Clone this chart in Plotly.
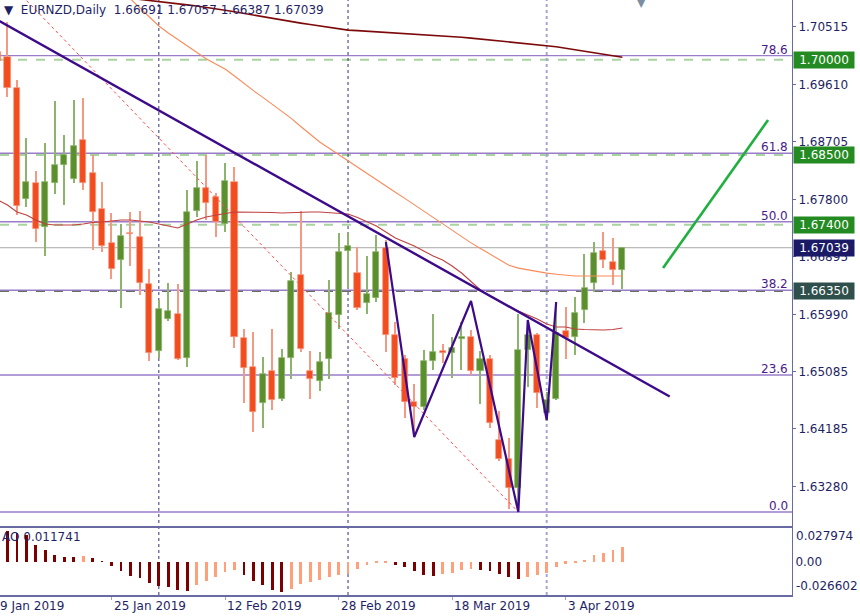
import plotly.graph_objects as go

# ---------------- data ----------------
dates = ["2019-01-09","2019-01-10","2019-01-11","2019-01-14","2019-01-15","2019-01-16","2019-01-17","2019-01-18",
         "2019-01-21","2019-01-22","2019-01-23","2019-01-24","2019-01-25","2019-01-28","2019-01-29","2019-01-30",
         "2019-01-31","2019-02-01","2019-02-04","2019-02-05","2019-02-06","2019-02-07","2019-02-08","2019-02-11",
         "2019-02-12","2019-02-13","2019-02-14","2019-02-15","2019-02-18","2019-02-19","2019-02-20","2019-02-21",
         "2019-02-22","2019-02-25","2019-02-26","2019-02-27","2019-02-28","2019-03-01","2019-03-04","2019-03-05",
         "2019-03-06","2019-03-07","2019-03-08","2019-03-11","2019-03-12","2019-03-13","2019-03-14","2019-03-15",
         "2019-03-18","2019-03-19","2019-03-20","2019-03-21","2019-03-22","2019-03-25","2019-03-26","2019-03-27",
         "2019-03-28","2019-03-29","2019-04-01","2019-04-02","2019-04-03","2019-04-04","2019-04-05","2019-04-08",
         "2019-04-09","2019-04-10","2019-04-11"]

opens = [1.70121,1.70042,1.69554,1.67806,1.68058,1.67365,1.68058,1.68342,1.68121,1.68735,1.68216,1.67649,1.67113,
         1.66846,1.67271,1.67208,1.66467,1.65412,1.65916,1.65995,1.65302,1.67617,1.67979,1.67838,1.67413,1.68074,
         1.65617,1.65161,1.64594,1.65098,1.64657,1.65302,1.66609,1.65098,1.64940,1.65286,1.65979,1.66987,1.66641,
         1.66168,1.66247,1.67034,1.65664,1.65286,1.64609,1.64531,1.65255,1.65412,1.65381,1.65601,1.65633,1.65098,
         1.65286,1.64011,1.63712,1.63255,1.65428,1.65664,1.64436,1.64657,1.65728,1.65633,1.66058,1.66483,1.66987,
         1.66814,1.66691]
highs = [1.70232,1.70594,1.69680,1.68767,1.68247,1.68688,1.69349,1.68814,1.69365,1.69397,1.68499,1.68074,1.67586,
         1.67413,1.67602,1.67617,1.66704,1.66216,1.66483,1.66467,1.67948,1.68405,1.68499,1.67901,1.68373,1.68310,
         1.65759,1.65712,1.65318,1.65759,1.65444,1.66657,1.67617,1.65412,1.65397,1.66531,1.67271,1.67271,1.67050,
         1.66909,1.67239,1.67160,1.65869,1.65349,1.64893,1.65428,1.65995,1.65523,1.65633,1.65869,1.65743,1.65412,
         1.65349,1.64467,1.64042,1.65995,1.65901,1.65696,1.64767,1.66184,1.66106,1.66263,1.66940,1.67129,1.67286,
         1.67192,1.67057]
lows = [1.69917,1.69413,1.67554,1.67680,1.67129,1.66909,1.67885,1.67712,1.68058,1.67948,1.67003,1.66972,1.66546,
        1.66090,1.66751,1.66294,1.65255,1.65302,1.65885,1.65271,1.65161,1.67523,1.67476,1.67208,1.67287,1.65460,
        1.64594,1.64137,1.64200,1.64483,1.64625,1.64971,1.65397,1.64657,1.64782,1.64971,1.65759,1.66405,1.66058,
        1.65995,1.66184,1.65397,1.64877,1.64357,1.64074,1.64483,1.65113,1.65224,1.64987,1.65113,1.65035,1.64578,
        1.64200,1.63686,1.62924,1.62877,1.64846,1.64515,1.64310,1.64641,1.65286,1.65349,1.65853,1.66342,1.66720,
        1.66452,1.66387]
closes = [1.69980,1.69554,1.67696,1.68074,1.67334,1.68074,1.68342,1.68499,1.68641,1.68058,1.67601,1.67066,1.66704,
          1.67224,1.67255,1.66483,1.65381,1.66074,1.66042,1.65286,1.67601,1.67979,1.67743,1.67444,1.68090,1.65633,
          1.65145,1.64452,1.65050,1.64641,1.65302,1.66515,1.65444,1.64971,1.65239,1.66011,1.66972,1.67066,1.66090,
          1.66310,1.66972,1.65664,1.64987,1.64609,1.64531,1.65255,1.65397,1.65388,1.65460,1.65633,1.65098,1.65286,
          1.64279,1.63712,1.63255,1.65428,1.65664,1.64751,1.64641,1.65696,1.65617,1.66011,1.66405,1.66956,1.66846,
          1.66688,1.67039]

ma_slow = [1.71223,1.71208,1.71192,1.71176,1.71153,1.71129,1.71113,1.71097,1.71082,1.71066,1.71042,1.71019,1.71003,
           1.70987,1.70964,1.70948,1.70935,1.70916,1.70899,1.70880,1.70863,1.70846,1.70827,1.70806,1.70779,1.70754,
           1.70727,1.70701,1.70675,1.70650,1.70625,1.70600,1.70576,1.70554,1.70532,1.70509,1.70487,1.70466,1.70458,
           1.70449,1.70441,1.70433,1.70424,1.70414,1.70405,1.70395,1.70384,1.70375,1.70365,1.70354,1.70340,1.70326,
           1.70313,1.70299,1.70285,1.70271,1.70257,1.70244,1.70230,1.70205,1.70181,1.70157,1.70134,1.70110,1.70087,
           1.70063,1.70039]
ma_mid = [1.72940,1.72798,1.72657,1.72515,1.72373,1.72231,1.72090,1.71948,1.71806,1.71664,1.71523,1.71381,1.71239,
          1.71097,1.70956,1.70814,1.70672,1.70531,1.70420,1.70318,1.70216,1.70121,1.70016,1.69932,1.69853,1.69743,
          1.69625,1.69512,1.69406,1.69296,1.69192,1.69075,1.68948,1.68822,1.68704,1.68605,1.68504,1.68405,1.68305,
          1.68208,1.68109,1.68011,1.67912,1.67816,1.67715,1.67614,1.67513,1.67408,1.67307,1.67208,1.67115,1.67027,
          1.66940,1.66852,1.66764,1.66718,1.66691,1.66664,1.66639,1.66622,1.66605,1.66594,1.66594,1.66594,1.66594,
          1.66594,1.66594]
ma_fast = [1.67790,1.67712,1.67601,1.67554,1.67475,1.67412,1.67397,1.67397,1.67397,1.67412,1.67436,1.67444,1.67460,
           1.67475,1.67475,1.67460,1.67444,1.67412,1.67381,1.67350,1.67412,1.67475,1.67523,1.67554,1.67578,1.67601,
           1.67601,1.67601,1.67601,1.67594,1.67586,1.67594,1.67601,1.67601,1.67601,1.67594,1.67586,1.67570,1.67515,
           1.67444,1.67381,1.67287,1.67192,1.67129,1.67066,1.66987,1.66909,1.66846,1.66751,1.66641,1.66499,1.66373,
           1.66279,1.66200,1.66121,1.66042,1.65979,1.65916,1.65838,1.65790,1.65790,1.65759,1.65751,1.65743,1.65743,
           1.65751,1.65775]

ao = [0.0277,0.0245,0.0228,0.0211,0.0132,0.0092,0.0053,0.0040,0.0038,0.0045,0.0032,0.0005,
      -0.0032,-0.0071,-0.0111,-0.0127,-0.0164,-0.0190,-0.0198,-0.0224,-0.0230,
      -0.0185,-0.0153,-0.0119,-0.0079,-0.0061,
      -0.0106,-0.0150,-0.0185,-0.0224,-0.0242,
      -0.0216,-0.0177,-0.0158,-0.0145,-0.0119,-0.0100,-0.0092,-0.0053,-0.0021,-0.0008,-0.0005,
      -0.0021,-0.0040,-0.0071,-0.0100,-0.0111,
      -0.0098,-0.0087,-0.0066,-0.0053,
      -0.0066,-0.0071,-0.0092,-0.0119,-0.0137,
      -0.0119,-0.0100,-0.0084,-0.0040,-0.0013,-0.0005,0.0008,0.0058,0.0074,0.0098,0.011741]

# price-axis tick labels
price_ticks = [1.70515, 1.69610, 1.68705, 1.67800, 1.66895, 1.65990, 1.65085, 1.64185, 1.63280]
date_labels = {"2019-01-09": "9 Jan 2019", "2019-01-25": "25 Jan 2019", "2019-02-12": "12 Feb 2019",
               "2019-02-28": "28 Feb 2019", "2019-03-18": "18 Mar 2019", "2019-04-03": "3 Apr 2019"}
month_starts = ["2019-02-01", "2019-03-01", "2019-04-01"]

# Fibonacci retracement anchors (bar offset from first date, price)
fib_x = [-4, 55]
fib_p = [1.72020, 1.62877]
fib_levels = [0.0, 23.6, 38.2, 50.0, 61.8, 78.6]

# horizontal levels
green_levels = [1.70000, 1.68500, 1.67400]
support_level = 1.66350
last_price = 1.67039

# trendlines (bar offset, price)
trend_x = [0, 71]
trend_p = [1.70620, 1.64697]
zig_x = [41, 44, 50, 55, 56, 58, 59]
zig_p = [1.67129, 1.64058, 1.66200, 1.62877, 1.65901, 1.64326, 1.66184]
arrow_x = [70.3, 81.4]
arrow_p = [1.66720, 1.69050]

# ---------------- styling ----------------
FONT = "DejaVu Sans"
NAVY = "#1f1f66"
AXIS = "#6a6aa2"
BULL, BULL_W = "#5b8e2d", "#8db46c"
BEAR, BEAR_W = "#f24d1f", "#f59a82"
FIBC = "#9a7cc9"
XR = [0.21, 83.93]

n = len(dates)
x = list(range(n))
bull = [c >= o for o, c in zip(opens, closes)]


def to_paper(v):
    return (v - XR[0]) / (XR[1] - XR[0])


fig = go.Figure()

# wicks
fig.add_trace(go.Bar(x=x, base=lows, y=[h - l for h, l in zip(highs, lows)], width=0.12,
                     marker=dict(color=[BULL_W if b else BEAR_W for b in bull], line=dict(width=0)),
                     xaxis="x", yaxis="y", hoverinfo="skip", showlegend=False))
# bodies
fig.add_trace(go.Bar(x=x, base=[min(o, c) for o, c in zip(opens, closes)],
                     y=[max(abs(c - o), 0.00008) for o, c in zip(opens, closes)], width=0.64,
                     marker=dict(color=[BULL if b else BEAR for b in bull],
                                 line=dict(color=[BULL_W if b else BEAR_W for b in bull], width=0.7)),
                     xaxis="x", yaxis="y", showlegend=False))

# moving averages
fig.add_trace(go.Scatter(x=x, y=ma_slow, mode="lines", line=dict(color="#7d0a0a", width=1.6),
                         showlegend=False, hoverinfo="skip"))
fig.add_trace(go.Scatter(x=x, y=ma_mid, mode="lines", line=dict(color="#fa8a58", width=1.1),
                         showlegend=False, hoverinfo="skip"))
fig.add_trace(go.Scatter(x=x, y=ma_fast, mode="lines", line=dict(color="#c0403f", width=1.1),
                         showlegend=False, hoverinfo="skip"))

# fibo dotted diagonal
fig.add_trace(go.Scatter(x=fib_x, y=fib_p, mode="lines", line=dict(color="#ff4a4a", width=1, dash="dot"),
                         showlegend=False, hoverinfo="skip"))
# trendline
fig.add_trace(go.Scatter(x=trend_x, y=trend_p, mode="lines", line=dict(color="#3d0a8a", width=2.4),
                         showlegend=False, hoverinfo="skip"))
# zigzag
fig.add_trace(go.Scatter(x=zig_x, y=zig_p, mode="lines", line=dict(color="#3d0a8a", width=2.2),
                         showlegend=False, hoverinfo="skip"))
# green projection line
fig.add_trace(go.Scatter(x=arrow_x, y=arrow_p, mode="lines", line=dict(color="#1fb040", width=2.6),
                         showlegend=False, hoverinfo="skip"))

# AO histogram
ao_col = ["#7d0000"] + ["#ffa07a" if ao[i] > ao[i - 1] else "#7d0000" for i in range(1, n)]
fig.add_trace(go.Bar(x=x, y=ao, width=0.3, marker=dict(color=ao_col, line=dict(width=0)),
                     xaxis="x2", yaxis="y2", showlegend=False))

# ---------------- shapes ----------------
shapes = []
lo, hi = fib_p[1], fib_p[0]
fib_prices = [lo + lv / 100.0 * (hi - lo) for lv in fib_levels]
for fp in fib_prices:
    shapes.append(dict(type="line", xref="paper", x0=0, x1=1, yref="y", y0=fp, y1=fp,
                       line=dict(color=FIBC, width=1.4), layer="below"))
for gl in green_levels:
    shapes.append(dict(type="line", xref="paper", x0=0, x1=1, yref="y", y0=gl, y1=gl,
                       line=dict(color="#a9d4a0", width=2, dash="dash"), layer="below"))
shapes.append(dict(type="line", xref="paper", x0=0, x1=1, yref="y", y0=support_level, y1=support_level,
                   line=dict(color="#667066", width=1.3, dash="dash"), layer="below"))
shapes.append(dict(type="line", xref="paper", x0=0, x1=1, yref="y", y0=last_price, y1=last_price,
                   line=dict(color="#a8a8a8", width=1), layer="below"))
for i, d in enumerate(month_starts):
    xi = dates.index(d)
    last = i == len(month_starts) - 1
    shapes.append(dict(type="line", xref="x", x0=xi, x1=xi, yref="paper", y0=0, y1=1,
                       line=dict(color="#a6a6d6" if last else "#30307a", width=2 if last else 1, dash="dot"),
                       layer="below"))

# ---------------- annotations ----------------
ann = []
ann.append(dict(text="▼  EURNZD,Daily  1.66691 1.67057 1.66387 1.67039", xref="paper", yref="paper",
                x=0, y=1, xanchor="left", yanchor="top", xshift=2, yshift=-1, showarrow=False,
                font=dict(family=FONT, size=12, color=NAVY)))
ann.append(dict(text="▼", xref="paper", yref="paper", x=to_paper(n + 1), y=1, xanchor="center",
                yanchor="middle", showarrow=False, font=dict(family=FONT, size=16, color="#7d8ea0")))
ann.append(dict(text="AO 0.011741", xref="paper", yref="y2", x=0, y=ao[0], xanchor="left",
                yanchor="middle", xshift=0, yshift=-10, showarrow=False,
                font=dict(family=FONT, size=12, color=NAVY)))
for lv, fp in zip(fib_levels, fib_prices):
    ann.append(dict(text=f"{lv:.1f}", xref="paper", yref="y", x=1, y=fp, xanchor="right", yanchor="bottom",
                    xshift=-2, yshift=-3, showarrow=False, font=dict(family=FONT, size=12, color="#4a1a8a")))
for gl in green_levels:
    ann.append(dict(text=f"{gl:.5f}", xref="paper", yref="y", x=1, y=gl, xanchor="left", yanchor="middle",
                    xshift=1, showarrow=False, bgcolor="#238b22", borderpad=1, width=58,
                    font=dict(family=FONT, size=12, color="white")))
ann.append(dict(text=f"{last_price:.5f}", xref="paper", yref="y", x=1, y=last_price, xanchor="left",
                yanchor="middle", xshift=1, showarrow=False, bgcolor="#1a1a66", borderpad=1, width=58,
                font=dict(family=FONT, size=12, color="white")))
ann.append(dict(text=f"{support_level:.5f}", xref="paper", yref="y", x=1, y=support_level, xanchor="left",
                yanchor="middle", xshift=1, showarrow=False, bgcolor="#2f4f4c", borderpad=1, width=58,
                font=dict(family=FONT, size=12, color="white")))
ann.append(dict(text="0.027974", xref="paper", yref="y2", x=1, y=0.0277, xanchor="left", yanchor="top",
                xshift=2, showarrow=False, font=dict(family=FONT, size=12, color=NAVY)))
ann.append(dict(text="-0.026602", xref="paper", yref="y2", x=1, y=-0.0262, xanchor="left", yanchor="bottom",
                xshift=2, showarrow=False, font=dict(family=FONT, size=12, color=NAVY)))
for d, lab in date_labels.items():
    ann.append(dict(text=lab, xref="paper", yref="paper", x=to_paper(dates.index(d)), y=0, xanchor="left",
                    yanchor="top", xshift=0, yshift=-2, showarrow=False,
                    font=dict(family=FONT, size=12, color=NAVY)))

date_idx = [dates.index(d) for d in date_labels]

fig.update_layout(
    width=860, height=616,
    margin=dict(l=0, r=68, t=0, b=21),
    paper_bgcolor="white", plot_bgcolor="white",
    barmode="overlay", bargap=0,
    shapes=shapes, annotations=ann,
    xaxis=dict(domain=[0, 1], range=XR, anchor="y", showgrid=False, zeroline=False,
               showticklabels=False, ticks="", showline=True, linecolor=AXIS, linewidth=2),
    yaxis=dict(domain=[0.116, 1], range=[1.62657, 1.70940], side="right", anchor="x",
               tickvals=price_ticks, ticktext=[f"{t:.5f}" for t in price_ticks],
               ticks="outside", ticklen=3, tickcolor=AXIS, showgrid=False, zeroline=False,
               showline=True, linecolor=AXIS, linewidth=1,
               tickfont=dict(family=FONT, size=12, color=NAVY)),
    xaxis2=dict(domain=[0, 1], range=XR, anchor="y2", matches="x", showgrid=False,
                zeroline=False, showticklabels=False, tickvals=date_idx, ticks="outside", ticklen=3,
                tickcolor="#a0a0c0", showline=True, linecolor=AXIS, linewidth=1.5),
    yaxis2=dict(domain=[0, 0.1143], range=[-0.0262, 0.0277], side="right", anchor="x2",
                tickvals=[0], ticktext=["0.00"], ticks="", showgrid=False, zeroline=False,
                showline=True, linecolor=AXIS, linewidth=1,
                tickfont=dict(family=FONT, size=12, color=NAVY)),
)

fig.write_html("out.html", config={"displayModeBar": False},
               post_script="document.body.style.margin='0';document.body.style.overflow='hidden';")
